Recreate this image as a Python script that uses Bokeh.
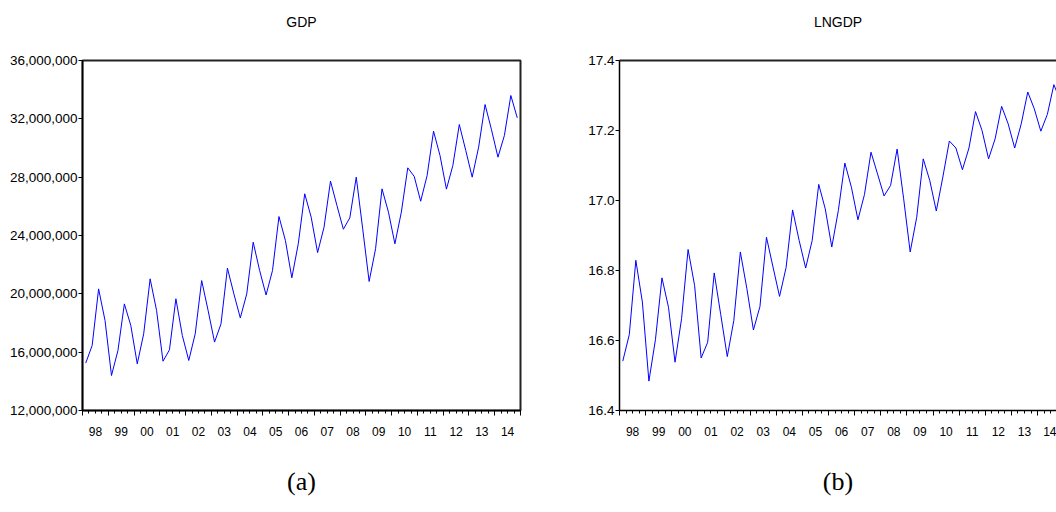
from bokeh.plotting import figure
from bokeh.layouts import row
from bokeh.models import (Range1d, FixedTicker, LinearAxis, NumeralTickFormatter,
                          CustomJSTickFormatter)
from bokeh.embed import file_html
from bokeh.resources import INLINE

# ---------------- data (quarterly, 1998Q1 - 2014Q4) ----------------
year_labels = ["98", "99", "00", "01", "02", "03", "04", "05", "06",
               "07", "08", "09", "10", "11", "12", "13", "14"]

gdp = [15250000, 16460000, 20340000, 18170000,
       14400000, 16110000, 19310000, 17830000,
       15200000, 17260000, 21030000, 18860000,
       15380000, 16160000, 19660000, 17140000,
       15430000, 17260000, 20910000, 18860000,
       16690000, 17940000, 21760000, 20000000,
       18350000, 20000000, 23540000, 21600000,
       19920000, 21600000, 25300000, 23660000,
       21100000, 23430000, 26860000, 25260000,
       22830000, 24570000, 27730000, 26060000,
       24430000, 25210000, 28000000, 24460000,
       20850000, 23090000, 27200000, 25600000,
       23430000, 25600000, 28640000, 28050000,
       26350000, 28110000, 31150000, 29490000,
       27180000, 28800000, 31610000, 29830000,
       28000000, 30060000, 32980000, 31250000,
       29370000, 30860000, 33600000, 32070000]

lngdp = [16.541, 16.617, 16.829, 16.710,
         16.484, 16.602, 16.779, 16.695,
         16.538, 16.662, 16.860, 16.757,
         16.550, 16.595, 16.793, 16.674,
         16.554, 16.657, 16.853, 16.748,
         16.630, 16.697, 16.895, 16.810,
         16.726, 16.808, 16.973, 16.886,
         16.807, 16.886, 17.046, 16.976,
         16.867, 16.971, 17.107, 17.038,
         16.945, 17.017, 17.138, 17.076,
         17.013, 17.043, 17.147, 17.005,
         16.853, 16.952, 17.119, 17.057,
         16.970, 17.067, 17.170, 17.150,
         17.088, 17.150, 17.254, 17.200,
         17.119, 17.176, 17.269, 17.219,
         17.150, 17.219, 17.310, 17.262,
         17.198, 17.246, 17.331, 17.284]

gdp_ticks = [12000000, 16000000, 20000000, 24000000, 28000000, 32000000, 36000000]
lngdp_ticks = [16.4, 16.6, 16.8, 17.0, 17.2, 17.4]

quarters = list(range(len(gdp)))
year_bounds = [-0.5 + 4 * k for k in range(len(year_labels) + 1)]
quarter_bounds = [-0.5 + q for q in range(len(gdp) + 1)]
label_pos = [1.5 + 4 * k for k in range(len(year_labels))]

SANS = "Liberation Sans"
SERIF = "Liberation Serif"


def make_panel(title, caption, values, y_lo, y_hi, y_ticks, y_fmt,
               width, border_left, border_right, x_end, full_box):
    p = figure(width=width, height=512, output_backend="svg",
               toolbar_location=None, tools="", title=None,
               x_range=Range1d(-0.5, x_end), y_range=Range1d(y_lo, y_hi),
               min_border_left=border_left, min_border_right=border_right,
               min_border_top=60, min_border_bottom=102)
    p.background_fill_color = "white"
    p.border_fill_color = "white"
    p.xgrid.visible = False
    p.ygrid.visible = False

    if full_box:
        p.outline_line_color = "#222222"
        p.outline_line_width = 2
        p.outline_line_alpha = 1.0
    else:
        p.outline_line_color = None

    # y axis
    ya = p.yaxis[0]
    ya.ticker = FixedTicker(ticks=y_ticks)
    ya.formatter = NumeralTickFormatter(format=y_fmt)
    ya.major_tick_out = 4
    ya.major_tick_in = 0
    ya.minor_tick_line_color = None
    ya.axis_line_width = 1.5
    ya.axis_line_color = "black"
    ya.major_tick_line_color = "black"
    ya.major_label_text_font = SANS
    ya.major_label_text_font_size = "13.5px"
    ya.major_label_text_color = "black"
    ya.major_label_standoff = 1

    # x axis: tick marks only
    xa = p.xaxis[0]
    xa.ticker = FixedTicker(ticks=year_bounds, minor_ticks=quarter_bounds)
    xa.formatter = CustomJSTickFormatter(code="return ''")
    xa.major_label_text_font_size = "1px"
    xa.major_label_standoff = 0
    xa.major_tick_out = 5
    xa.major_tick_in = 0
    xa.minor_tick_out = 3
    xa.minor_tick_in = 0
    xa.axis_line_width = 1.5
    xa.axis_line_color = "black"
    xa.major_tick_line_color = "black"
    xa.minor_tick_line_color = "black"

    # x axis: year labels centred in each year, caption as axis label
    la = LinearAxis(ticker=FixedTicker(ticks=label_pos),
                    major_label_overrides={pos: lab for pos, lab in zip(label_pos, year_labels)},
                    axis_label=caption)
    la.axis_line_color = None
    la.major_tick_line_color = None
    la.minor_tick_line_color = None
    la.major_tick_out = 0
    la.major_tick_in = 0
    la.major_label_standoff = 11
    la.major_label_text_font = SANS
    la.major_label_text_font_size = "12px"
    la.major_label_text_color = "black"
    la.axis_label_standoff = 28
    la.axis_label_text_font = SERIF
    la.axis_label_text_font_size = "26px"
    la.axis_label_text_font_style = "normal"
    la.axis_label_text_color = "black"
    p.add_layout(la, "below")

    # top: frame line plus the panel title as a single centred label
    x_mid = (-0.5 + x_end) / 2.0
    ta = LinearAxis(ticker=FixedTicker(ticks=[x_mid]),
                    major_label_overrides={x_mid: title})
    ta.axis_line_color = None if full_box else "#222222"
    ta.axis_line_width = 2
    ta.major_tick_line_color = None
    ta.minor_tick_line_color = None
    ta.major_tick_out = 0
    ta.major_tick_in = 0
    ta.major_label_standoff = 31
    ta.major_label_text_font = SANS
    ta.major_label_text_font_size = "14px"
    ta.major_label_text_color = "black"
    p.add_layout(ta, "above")

    p.line(quarters, values, line_color="#0000FF", line_width=1)
    return p


p1 = make_panel("GDP", "(a)", gdp, 12000000, 36000000, gdp_ticks, "0,0",
                width=540, border_left=82, border_right=20, x_end=67.5, full_box=True)
p2 = make_panel("LNGDP", "(b)", lngdp, 16.4, 17.4, lngdp_ticks, "0.0",
                width=516, border_left=79, border_right=0, x_end=66.4, full_box=False)

layout = row(p1, p2)
open("out.html", "w").write(file_html(layout, INLINE))
